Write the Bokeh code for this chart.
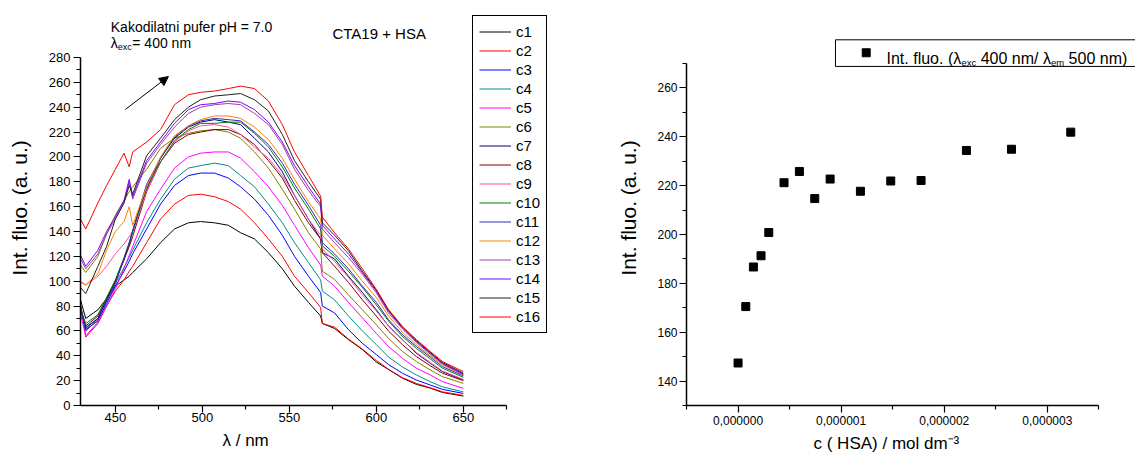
from bokeh.plotting import figure
from bokeh.models import (Range1d, FixedTicker, CustomJSTickFormatter, Legend, LegendItem,
                          Label, Arrow, NormalHead, BoxAnnotation)
from bokeh.layouts import row
from bokeh.embed import file_html
from bokeh.resources import INLINE

# ---------------- data: emission spectra (left) ----------------
wl = [430, 433, 440, 445, 450, 455, 458, 460, 468, 476, 484, 492, 499, 507, 515, 522, 530, 538,
      546, 553, 561, 568, 569, 576, 584, 592, 600, 607, 615, 623, 631, 638, 650]

c1 = [85, 70, 77, 86, 96, 101, 104, 107, 118, 131, 142, 147, 148, 147, 145, 139, 134, 123, 110, 96, 83, 72,
      66, 62, 53, 45, 35, 29, 22, 17, 14, 10.5, 7.6]
c2 = [82, 55, 66, 80, 92, 101, 108, 112, 131, 150, 162, 169, 170, 168, 164, 158, 147, 134, 120, 104, 91, 79,
      66, 63, 53.5, 45.4, 36.2, 29.2, 22.4, 17.8, 14.3, 11, 8.1]
c3 = [78, 61, 68, 82, 96, 108, 116, 122, 142, 162, 177, 185, 187, 187, 183, 176, 166, 153, 137, 120, 104, 91,
      80, 74.5, 61, 50, 41, 33, 26, 20.5, 16.5, 13, 9.7]
c4 = [76, 63, 70, 84, 98, 111, 119, 125, 147, 166, 182, 191, 193, 195, 193, 185, 176, 162, 147, 131, 115, 101,
      92, 85, 72, 60, 49, 39, 31, 24.6, 19.2, 15, 11]
c5 = [74, 56, 67, 80, 94, 110, 121, 128, 156, 174, 191, 200, 203, 204, 204, 199, 188, 176, 161, 145, 127, 113,
      104, 96, 83, 70.5, 58, 47.5, 38, 30, 24.6, 19.2, 13.8]
c6 = [113, 107, 120, 138, 153, 165, 172, 176, 190, 207, 215, 219, 221, 222, 220, 215, 204, 191, 174, 158, 139, 126,
      108, 101.5, 89, 77, 65, 54, 43.5, 35.4, 28.6, 23.2, 17.8]
c7 = [80, 62, 70, 85, 100, 118, 130, 140, 174, 199, 215, 224, 228, 230, 228, 226, 215, 204, 188, 169, 150, 134,
      123, 118, 104, 91, 77, 64, 53, 42, 34, 27.3, 20.5]
c8 = [77, 64, 72, 86, 100, 117, 128, 136, 172, 196, 211, 218, 220, 222, 222, 218, 210, 197, 183, 165, 147, 134,
      123, 112, 99, 85, 72, 60, 49, 39.4, 32, 26, 20]
c9 = [100, 97, 104, 112, 122, 130, 136, 140, 172, 196, 212, 221, 225, 226, 224, 218, 208, 199, 185, 169, 150, 137,
      126, 116, 103, 89, 76, 64, 53, 42.7, 34.6, 27.8, 21]
c10 = [78, 66, 73, 87, 101, 119, 131, 140, 176, 196, 213, 222, 227, 227, 228, 228, 219, 208, 192, 175, 158, 142,
       128.5, 120, 108, 95, 81, 68, 55.6, 46, 37.5, 30, 22.7]
c11 = [80, 60, 69, 84, 98, 118, 131, 141, 178, 199, 216, 225, 229, 231, 230, 229, 220, 210, 195, 178, 161, 145,
       131, 122, 110, 96, 83, 69, 57, 47.5, 39, 31.3, 23.8]
c12 = [99, 97, 106, 125, 140, 148, 160, 145, 176, 200, 217, 225, 230, 233, 233, 231, 224, 214, 199, 182, 164, 150,
       137, 126, 114, 100, 87, 72, 59, 49, 40, 32.7, 24.6]
c13 = [118, 110, 122, 138, 150, 163, 180, 166, 195, 210, 224, 235, 240, 242, 243, 242, 235, 226, 210, 190, 173, 160,
       142, 131, 119, 105.6, 90.7, 74.5, 61.6, 50.8, 41.3, 33.5, 24.6]
c14 = [121, 112, 125, 140, 152, 165, 182, 168, 197, 212, 227, 238, 242, 243, 245, 244, 238, 228, 212, 193, 176, 162,
       145, 134, 122, 107, 92, 76, 62.4, 51.6, 42, 34, 25.4]
c15 = [95, 90, 112, 128, 150, 163, 177, 170, 201, 215, 230, 240, 246, 249, 250, 251, 246, 237, 218, 197, 180, 166,
       147, 137, 124.5, 108, 93, 76.7, 63.2, 52.4, 42.7, 34.6, 26]
c16 = [150, 142, 163, 177, 190, 203, 192, 204, 212, 222, 242, 250, 252, 253, 255, 257, 255, 245, 226, 204, 185, 168.5,
       151.5, 139, 126, 110, 93.4, 77.2, 63.7, 53, 43.5, 35.4, 27.3]

series = [c1, c2, c3, c4, c5, c6, c7, c8, c9, c10, c11, c12, c13, c14, c15, c16]
series_names = ["c1", "c2", "c3", "c4", "c5", "c6", "c7", "c8", "c9", "c10",
                "c11", "c12", "c13", "c14", "c15", "c16"]
series_colors = ["#000000", "#FF0000", "#0000FF", "#008B8B", "#FF00FF", "#808000", "#000080",
                 "#800000", "#FF4FA0", "#008000", "#2B2BC8", "#FF8000", "#A040A0", "#8000FF",
                 "#202020", "#FF0000"]

# ---------------- data: titration (right) ----------------
conc = [0.0, 7.5e-8, 1.49e-7, 2.23e-7, 2.98e-7, 4.46e-7, 5.95e-7, 7.44e-7, 8.93e-7,
        1.187e-6, 1.481e-6, 1.775e-6, 2.215e-6, 2.652e-6, 3.227e-6]
fluo = [147.4, 170.5, 186.7, 191.3, 200.8, 221.2, 225.8, 214.7, 222.7,
        217.7, 221.9, 222.1, 234.4, 234.9, 241.9]

left_xticks = [450, 500, 550, 600, 650]
left_xminor = [475, 525, 575, 625, 675]
left_yticks = list(range(0, 281, 20))
left_yminor = list(range(10, 280, 20))
right_xticks = [0.0, 1e-6, 2e-6, 3e-6]
right_xminor = [-5e-7, 5e-7, 1.5e-6, 2.5e-6, 3.5e-6]
right_yticks = [140, 160, 180, 200, 220, 240, 260]
right_yminor = [130, 150, 170, 190, 210, 230, 250, 270]

FONT = "Liberation Sans"
FRAME_H = 395          # both frames share the same vertical extent (row aligns frames)
BORDER_TOP, BORDER_BOTTOM = 10, 54


def style_axes(p, tick_size):
    p.outline_line_color = None
    p.xgrid.grid_line_color = None
    p.ygrid.grid_line_color = None
    for ax in (p.xaxis[0], p.yaxis[0]):
        ax.axis_line_width = 1.5
        ax.axis_line_color = "black"
        ax.major_tick_line_color = "black"
        ax.minor_tick_line_color = "black"
        ax.major_tick_line_width = 1.2
        ax.minor_tick_line_width = 1.2
        ax.major_tick_out = 7
        ax.major_tick_in = 0
        ax.minor_tick_out = 4
        ax.minor_tick_in = 0
        ax.major_label_text_font = FONT
        ax.major_label_text_font_size = tick_size
        ax.major_label_text_color = "black"
        ax.axis_label_text_font = FONT
        ax.axis_label_text_font_style = "normal"
        ax.axis_label_text_color = "black"


def x_title(p, text, offset):
    # x-axis title placed below the axis, left-aligned with an offset as in the original
    p.title_location = "below"
    p.title.text = text
    p.title.align = "left"
    p.title.offset = offset
    p.title.standoff = 8
    p.title.text_font = FONT
    p.title.text_font_size = "17px"
    p.title.text_font_style = "normal"
    p.title.text_color = "black"


def add_label(p, x, y, text, size, xo=0, yo=0):
    p.add_layout(Label(x=x, y=y, text=text, x_offset=xo, y_offset=yo,
                       text_font=FONT, text_font_size=size, text_color="black",
                       text_baseline="alphabetic", text_align="left"))


# ================= LEFT FIGURE =================
L_FRAME_W = 475
PX_NM, PX_Y = 1.74, 348 / 280
p1 = figure(frame_width=L_FRAME_W, frame_height=FRAME_H, output_backend="svg",
            toolbar_location=None,
            x_range=Range1d(430, 430 + L_FRAME_W / PX_NM),
            y_range=Range1d(0, FRAME_H / PX_Y),
            min_border_left=80, min_border_right=13,
            min_border_top=BORDER_TOP, min_border_bottom=BORDER_BOTTOM)
style_axes(p1, "13px")
x_title(p1, "λ / nm", 142)
p1.xaxis.bounds = (430, 675)
p1.yaxis.bounds = (0, 280)
p1.xaxis.ticker = FixedTicker(ticks=left_xticks, minor_ticks=left_xminor)
p1.yaxis.ticker = FixedTicker(ticks=left_yticks, minor_ticks=left_yminor)
p1.xaxis.major_label_standoff = 0
p1.yaxis.major_label_standoff = 3
p1.yaxis.axis_label = "Int. fluo. (a. u.)"
p1.yaxis.axis_label_text_font_size = "21px"
p1.yaxis.axis_label_standoff = 15

items = []
for name, ys, col in zip(series_names, series, series_colors):
    r = p1.line(wl, ys, line_color=col, line_width=1)
    items.append(LegendItem(label=name, renderers=[r]))

legend = Legend(items=items, location=(392, 72), orientation="vertical",
                label_text_font=FONT, label_text_font_size="15px", label_text_color="black",
                label_height=19, glyph_height=19, glyph_width=32, label_standoff=5,
                spacing=0, padding=6, margin=0,
                border_line_color="black", border_line_width=1, border_line_alpha=1,
                background_fill_color="white", background_fill_alpha=1)
p1.add_layout(legend)

# annotations
note_x, note_y1, note_y2 = 447.4, 304.9, 291.5
add_label(p1, note_x, note_y1, "Kakodilatni pufer pH = 7.0", "14px")
add_label(p1, note_x, note_y2, "λ", "14px")
add_label(p1, note_x, note_y2, "exc", "9px", xo=7, yo=-4)
add_label(p1, note_x, note_y2, "= 400 nm", "14px", xo=21.5)
add_label(p1, 574.8, 299.1, "CTA19 + HSA", "15px")

arrow_start = (455.8, 238.2)
arrow_end = (480.5, 264.7)
p1.add_layout(Arrow(end=NormalHead(size=9, fill_color="black", line_color="black", line_width=1),
                    x_start=arrow_start[0], y_start=arrow_start[1],
                    x_end=arrow_end[0], y_end=arrow_end[1],
                    line_color="black", line_width=1))

# ================= RIGHT FIGURE =================
R_FRAME_W = 449
PX_C, PX_R = 1.031e8, 342 / 140
p2 = figure(frame_width=R_FRAME_W, frame_height=FRAME_H, output_backend="svg",
            toolbar_location=None,
            x_range=Range1d(-5e-7, -5e-7 + R_FRAME_W / PX_C),
            y_range=Range1d(130, 130 + FRAME_H / PX_R),
            min_border_left=118, min_border_right=0,
            min_border_top=BORDER_TOP, min_border_bottom=BORDER_BOTTOM)
style_axes(p2, "12px")
x_title(p2, "c ( HSA) / mol dm⁻³", 127)
p2.xaxis.bounds = (-5e-7, 3.5e-6)
p2.yaxis.bounds = (130, 270)
p2.xaxis.ticker = FixedTicker(ticks=right_xticks, minor_ticks=right_xminor)
p2.yaxis.ticker = FixedTicker(ticks=right_yticks, minor_ticks=right_yminor)
p2.xaxis.formatter = CustomJSTickFormatter(code="return tick.toFixed(6).replace('.', ',');")
p2.xaxis.major_label_standoff = 3
p2.yaxis.major_label_standoff = 2
p2.yaxis.axis_label = "Int. fluo. (a. u.)"
p2.yaxis.axis_label_text_font_size = "21px"
p2.yaxis.axis_label_standoff = 14

p2.scatter(conc, fluo, marker="square", size=8, fill_color="black", line_color="black")

# legend box (cut at the right edge as in the original)
leg_left, leg_top, leg_bottom = 0.945e-6, 279.7, 268.8
p2.add_layout(BoxAnnotation(left=leg_left, right=6e-6, top=leg_top, bottom=leg_bottom,
                            fill_color="white", fill_alpha=1, line_color="black",
                            line_width=1, line_alpha=1))
sw_x, sw_y = 1.243e-6, 274.4
p2.add_layout(BoxAnnotation(left=sw_x - 4 / PX_C, right=sw_x + 4 / PX_C,
                            bottom=sw_y - 4 / PX_R, top=sw_y + 4 / PX_R,
                            fill_color="black", fill_alpha=1, line_color="black", line_alpha=1))
tx, ty = 1.440e-6, 272.2
add_label(p2, tx, ty, "Int. fluo. (λ", "16px")
add_label(p2, tx, ty, "exc", "9.5px", xo=75, yo=-4)
add_label(p2, tx, ty, "400 nm/ λ", "16px", xo=94.2)
add_label(p2, tx, ty, "em", "9.5px", xo=164.5, yo=-4)
add_label(p2, tx, ty, "500 nm)", "16px", xo=182.1)

layout = row(p1, p2)
open("out.html", "w").write(file_html(layout, INLINE))
